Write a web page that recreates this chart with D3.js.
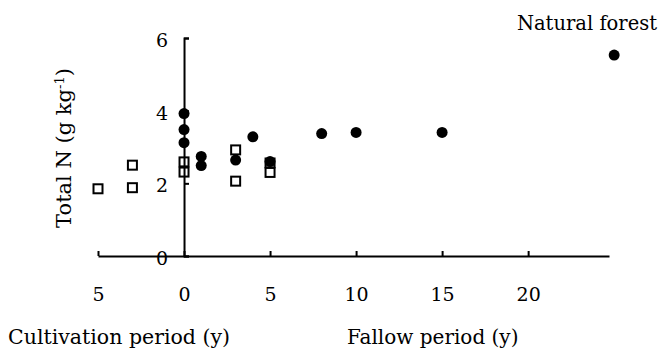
<!DOCTYPE html>
<html>
<head>
<meta charset="utf-8">
<script src="https://cdn.jsdelivr.net/npm/d3@7"></script>
<style>
  html, body { margin: 0; padding: 0; background: #fff; }
  svg { display: block; }
  text { font-family: "DejaVu Serif", "Liberation Serif", serif; fill: #000; }
</style>
</head>
<body>
<svg id="chart" width="665" height="351"></svg>
<script>
// Years on a signed axis: negative = cultivation period, positive = fallow period
const fallowX = [0, 0, 0, 1, 1, 3, 4, 5, 8, 10, 15, 25];
const fallowN = [3.92, 3.48, 3.12, 2.74, 2.49, 2.64, 3.28, 2.6, 3.37, 3.4, 3.4, 5.53];

const cultX = [-5, -3, -3, 0, 0, 3, 3, 5, 5];
const cultN = [1.85, 2.5, 1.88, 2.59, 2.31, 2.92, 2.06, 2.56, 2.3];

const xTicks = [-5, 0, 5, 10, 15, 20];
const xTickLabels = ["5", "0", "5", "10", "15", "20"];
const yTicks = [0, 2, 4, 6];

const svg = d3.select("#chart");

const x = d3.scaleLinear().domain([-5, 24.7]).range([98, 609]);
const y = d3.scaleLinear().domain([0, 6]).range([256, 38]);

// open squares
const sq = 9;
svg.append("g").selectAll("rect")
  .data(cultX.map((d, i) => ({ x: d, v: cultN[i] })))
  .join("rect")
  .attr("x", d => x(d.x) - sq / 2)
  .attr("y", d => y(d.v) - sq / 2)
  .attr("width", sq).attr("height", sq)
  .attr("fill", "none")
  .attr("stroke", "#000")
  .attr("stroke-width", 2);

// filled circles
svg.append("g").selectAll("circle")
  .data(fallowX.map((d, i) => ({ x: d, v: fallowN[i] })))
  .join("circle")
  .attr("cx", d => x(d.x))
  .attr("cy", d => y(d.v))
  .attr("r", 5.5)
  .attr("fill", "#000");

// bottom axis: ticks point up, labels well below
const xAxis = d3.axisBottom(x)
  .tickValues(xTicks)
  .tickFormat((d, i) => xTickLabels[i])
  .tickSizeInner(-5)
  .tickSizeOuter(0)
  .tickPadding(32);
const gx = svg.append("g").attr("transform", `translate(0,${y(0)})`).call(xAxis);

// vertical axis at year 0: ticks point right, labels on the left
const yAxis = d3.axisLeft(y)
  .tickValues(yTicks)
  .tickFormat(d3.format("d"))
  .tickSizeInner(-5)
  .tickSizeOuter(-5)
  .tickPadding(16);
const gy = svg.append("g").attr("transform", `translate(${x(0)},0)`).call(yAxis);
gy.selectAll(".tick text").attr("dy", "0.45em");

[gx, gy].forEach(g => {
  g.selectAll("path, line").attr("stroke", "#000").attr("stroke-width", 2);
  g.selectAll("text").attr("font-size", 19).attr("font-family", "DejaVu Serif, serif");
});

// y-axis title
const yt = svg.append("text")
  .attr("transform", "translate(71,148) rotate(-90)")
  .attr("text-anchor", "middle")
  .attr("font-size", 21)
  .text("Total N (g kg");
yt.append("tspan").attr("baseline-shift", "super").attr("font-size", 13).text("-1");
yt.append("tspan").text(")");

// x-axis titles
svg.append("text").attr("x", 8).attr("y", 344).attr("font-size", 20.5)
  .text("Cultivation period (y)");
svg.append("text").attr("x", 347).attr("y", 344).attr("font-size", 20)
  .text("Fallow period (y)");

// annotation
svg.append("text").attr("x", 587).attr("y", 30).attr("text-anchor", "middle")
  .attr("font-size", 19.5).text("Natural forest");
</script>
</body>
</html>
